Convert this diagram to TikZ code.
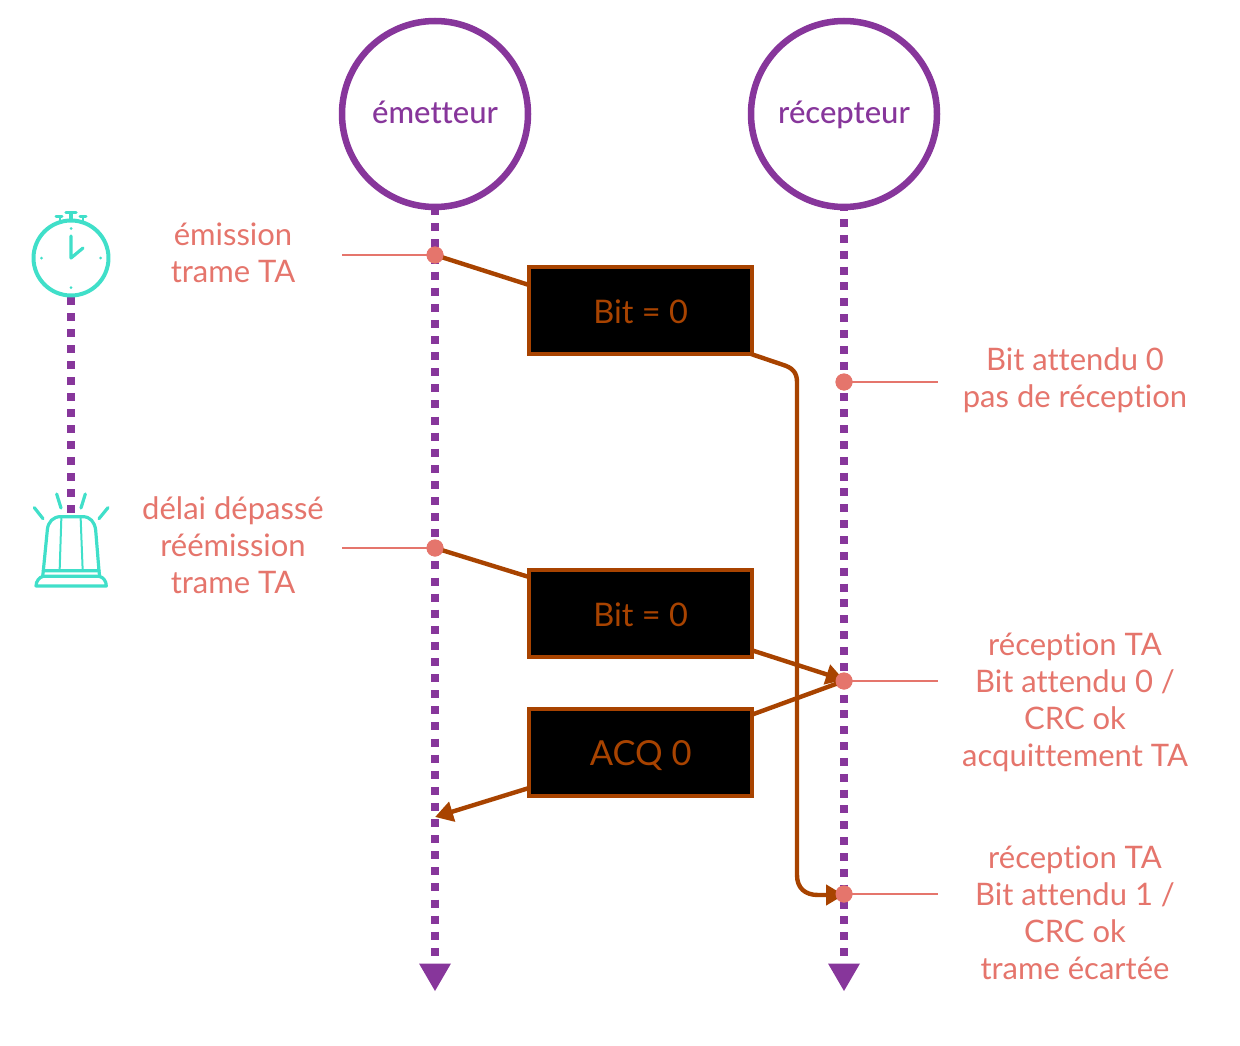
\documentclass[tikz,border=0pt]{standalone}
\usepackage{fontspec}
\setmainfont{Lato}[Ligatures=NoCommon]
\newfontfamily\hdrfont{Lato Medium}[Ligatures=NoCommon]
\usetikzlibrary{arrows.meta}
\definecolor{purp}{HTML}{87369B}
\definecolor{pink}{HTML}{E5756C}
\definecolor{teal2}{HTML}{40DFC9}
\definecolor{rust}{HTML}{A84300}
\tikzset{
 actor/.style={circle,draw=purp,line width=6.5pt,minimum size=186pt,inner sep=0pt,text=purp,text height=25pt,text depth=5pt,font=\hdrfont\fontsize{31}{35}\selectfont},
 lifeline/.style={purp,line width=8pt},
 endtip/.style={fill=purp,draw=none},
 msgbox/.style={rectangle,draw=rust,line width=4pt,fill=black,minimum width=223.5pt,minimum height=87.5pt,inner sep=0pt,text=rust,text height=27pt,text depth=0.6pt,font=\fontsize{32.5}{38}\selectfont},
 conn/.style={rust,line width=4.4pt},
 connarrow/.style={conn,-{Triangle[length=18pt,width=20pt]}},
 pdot/.style={circle,fill=pink,minimum size=17pt,inner sep=0pt},
 pline/.style={pink,line width=2pt},
 lbl/.style={text=pink,align=center,font=\fontsize{31}{37}\selectfont,inner sep=0pt},
 icon/.style={teal2,line width=3.2pt,line cap=round,line join=round},
 iconthin/.style={teal2,line width=2pt,line cap=round}
}
\begin{document}
\begin{tikzpicture}[x=1pt,y=-1pt]
\useasboundingbox (0,0) rectangle (1240,1046);
% actors
\node[actor] (em) at (435,114) {émetteur};
\node[actor] (re) at (844,114) {récepteur};
\coordinate (emend) at (435,956);
\coordinate (reend) at (844,956);
% lifelines
\draw[lifeline,dash pattern=on 8pt off 8.1pt,dash phase=1.8pt] (435,209) -- (emend);
\draw[lifeline,dash pattern=on 8pt off 7.85pt,dash phase=5.85pt] (844,209) -- (reend);
\fill[endtip] (419,963.5) -- (451,963.5) -- (435,991) -- cycle;
\fill[endtip] (828,963.5) -- (860,963.5) -- (844,991) -- cycle;
% timer line
\coordinate (tc) at (71,258);
\coordinate (bc) at (71,513);
\draw[lifeline,dash pattern=on 8pt off 8pt] (71,297) -- (bc);
% boxes
\node[msgbox] (b1) at (640.7,310.5) {Bit = 0};
\node[msgbox] (b2) at (640.7,613.5) {Bit = 0};
\node[msgbox,font=\fontsize{34.5}{38}\selectfont] (b3) at (640.7,752.5) {ACQ 0};
% dots
\node[pdot] (d1) at (435,255) {};
\node[pdot] (d2) at (435,548) {};
\node[pdot] (d3) at (844,382) {};
\node[pdot] (d4) at (844,681) {};
\node[pdot] (d5) at (844,894) {};
\coordinate (l1) at (342,255);
\coordinate (l2) at (342,548);
\coordinate (r3) at (938,382);
\coordinate (r4) at (938,681);
\coordinate (r5) at (938,894);
\draw[pline] (l1) -- (d1.center);
\draw[pline] (l2) -- (d2.center);
\draw[pline] (d3.center) -- (r3);
\draw[pline] (d4.center) -- (r4);
\draw[pline] (d5.center) -- (r5);
% connectors
\coordinate (b1a) at (529,285);
\coordinate (b1b) at (751,354);
\coordinate (b2a) at (529,577);
\coordinate (b2b) at (751,650);
\coordinate (b3a) at (751,715);
\coordinate (b3b) at (529,788);
\coordinate (a4) at (844,680);
\coordinate (a3) at (435,817);
\coordinate (a5) at (844,895);
\draw[conn] (d1.center) -- (b1a);
\draw[conn] (d2.center) -- (b2a);
\draw[connarrow] (b2b) -- (a4);
\draw[conn] (b3a) -- (d4.center);
\draw[connarrow] (b3b) -- (a3);
\draw[connarrow] (b1b) -- (782,364.5) .. controls (792,367.5) and (797,372) .. (797,382) -- (797,875) .. controls (797,888) and (805,895) .. (818,895) -- (a5);
% redraw dots on top
\node[pdot] at (d1) {};
\node[pdot] at (d2) {};
\node[pdot] at (d3) {};
\node[pdot] at (d4) {};
\node[pdot] at (d5) {};
% labels
\node[lbl] (t1) at (233,253) {émission\\trame TA};
\node[lbl] (t2) at (233,545) {délai dépassé\\réémission\\trame TA};
\node[lbl] (t3) at (1075,380.5) {Bit attendu 0\\pas de réception};
\node[lbl] (t4) at (1075,702) {réception TA\\Bit attendu 0 /\\CRC ok\\acquittement TA};
\node[lbl] (t5) at (1075,913) {réception TA\\Bit attendu 1 /\\CRC ok\\trame écartée};
% clock
\draw[icon,line width=4pt] (tc) circle (37.5);
\draw[icon] (71,236) -- (tc) -- (83,248);
\foreach \p in {(71,228.5),(71,287.5),(41.5,258),(100.5,258)} \fill[teal2] \p circle (1.5);
\draw[icon,line width=3.5pt] (66,212.5) -- (76,212.5);
\draw[icon] (71,213) -- (71,219);
\draw[iconthin,line width=3pt] (56,216.5) -- (62,216.5);
\draw[iconthin,line width=3pt] (80,216.5) -- (86,216.5);
\draw[iconthin] (59.5,217) -- (59.5,222);
\draw[iconthin] (82.5,217) -- (82.5,222);
% beacon
\begin{scope}[shift={(10,480)},x=0.3333pt,y=-0.3333pt]
\draw[icon] (100,272) -- (112,150) .. controls (114,125) and (130,110) .. (152,110) -- (218,110) .. controls (240,110) and (254,125) .. (257,150) -- (267,272) -- cycle;
\draw[iconthin] (154,115) -- (149,270);
\draw[iconthin] (212,115) -- (218,270);
\draw[icon] (78,318) .. controls (78,304) and (88,291) .. (100,289) -- (267,289) .. controls (280,291) and (289,304) .. (289,318) -- cycle;
\draw[icon] (100,272) -- (98,289);
\draw[icon] (267,272) -- (269,289);
\draw[icon] (73,83) -- (99,116);
\draw[icon] (140,42) -- (153,84);
\draw[icon] (226,42) -- (213,84);
\draw[icon] (294,83) -- (267,116);
\end{scope}
\end{tikzpicture}
\end{document}
